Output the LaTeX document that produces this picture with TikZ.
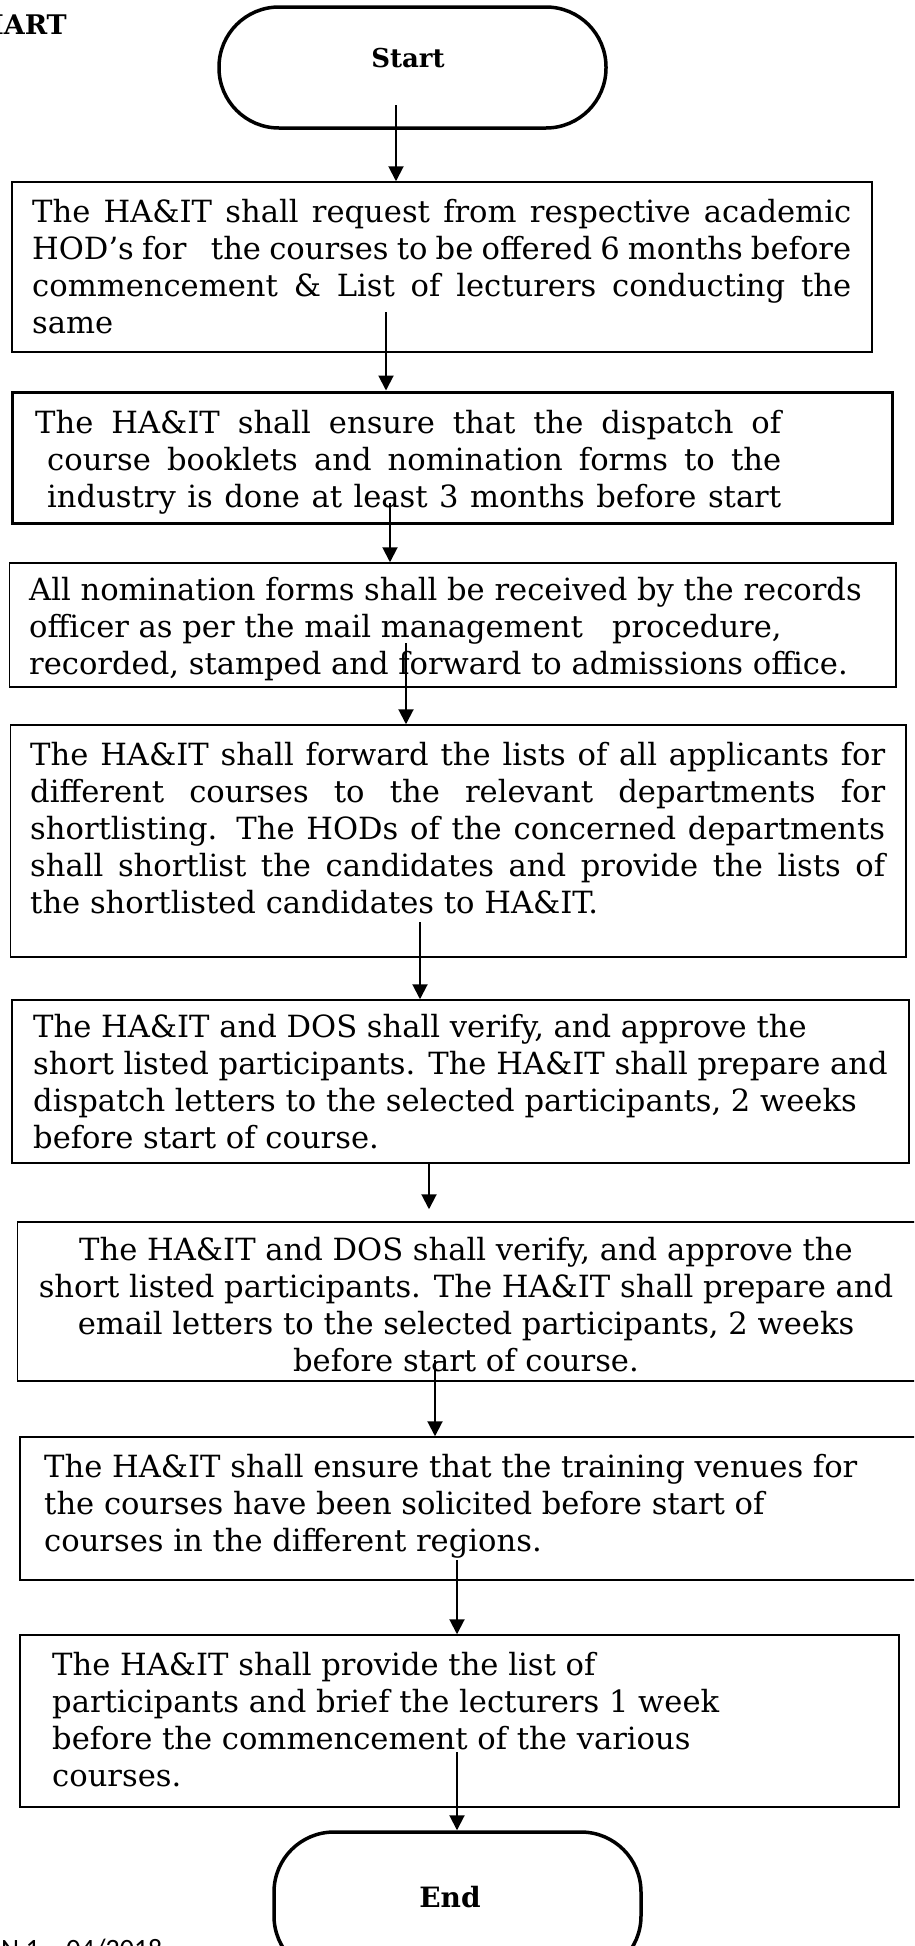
\documentclass[tikz,border=0pt]{standalone}
\usepackage{fontspec}
\setmainfont{DejaVu Serif}
\newfontfamily\footfont{Carlito}
\usetikzlibrary{arrows.meta}
\newcommand{\justline}[2]{\makebox[#1pt][s]{#2}}
\newcommand{\firststrut}{\rule{0pt}{30pt}}
\tikzset{
  box/.style={draw, line width=1.5pt, inner sep=0pt},
  thickbox/.style={box, line width=3pt},
  term/.style={draw, line width=3.5pt, rounded corners=60pt, inner sep=0pt},
  body/.style={anchor=north west, inner sep=0pt, align=left, font=\fontsize{30.6}{37}\selectfont},
  bodyc/.style={body, anchor=north, align=center},
  termtxt/.style={inner sep=0pt, font=\bfseries\fontsize{26}{28}\selectfont},
  flow/.style={-{Triangle[length=15pt,width=15pt]}, line width=2pt},
}
\begin{document}
\begin{tikzpicture}[x=1pt, y=-1pt]
\useasboundingbox (0,0) rectangle (914,1946);
\clip (0,0) rectangle (914,1946);

% header fragment and footer fragment
\node[anchor=base east, inner sep=0pt, font=\bfseries\fontsize{27}{29}\selectfont] (hdr) at (67,34) {CHART};
\node[anchor=base west, inner sep=0pt, font=\footfont\fontsize{28}{30}\selectfont] (rev) at (1,1958) {N 1 – 04/2018};

% terminals
\node[term, minimum width=387pt, minimum height=121pt] (start) at (412.5,67.5) {};
\node[termtxt] (starttxt) at (408,58.5) {Start};
\node[term, minimum width=367pt, minimum height=144pt] (end) at (457.5,1904) {};
\node[termtxt, font=\bfseries\fontsize{28}{30}\selectfont] (endtxt) at (450,1897.5) {End};

% boxes
\node[box, minimum width=860pt, minimum height=170pt] (b1) at (442,267) {};
\node[thickbox, minimum width=880pt, minimum height=131pt] (b2) at (452,457.5) {};
\node[box, minimum width=886.5pt, minimum height=124pt] (b3) at (452.75,625) {};
\node[box, minimum width=895.5pt, minimum height=232pt] (b4) at (458.25,841) {};
\node[box, minimum width=897pt, minimum height=163pt] (b5) at (460.5,1081.5) {};
\node[box, minimum width=902.5pt, minimum height=159pt] (b6) at (468.75,1301.5) {};
\node[box, minimum width=900pt, minimum height=143pt] (b7) at (470,1508.5) {};
\node[box, minimum width=879pt, minimum height=172pt] (b8) at (459.5,1721) {};

% texts
\node[body] (t1) at (32,192) {%
\firststrut\justline{819}{The HA\&IT shall request from respective academic}\\
\justline{819}{HOD’s for\ \ \ the courses to be offered 6 months before}\\
\justline{819}{commencement \& List of lecturers conducting the}\\
same};

\node[body] (t2) at (35,403) {%
\firststrut\justline{746}{The HA\&IT shall ensure that the dispatch of}\\
\hspace*{12pt}\justline{734}{course booklets and nomination forms to the}\\
\hspace*{12pt}\justline{734}{industry is done at least 3 months before start}};

\node[body] (t3) at (29,570) {%
\firststrut All nomination forms shall be received by the records\\
officer as per the mail management\ \ \ procedure,\\
recorded, stamped and forward to admissions office.};

\node[body] (t4) at (30,735) {%
\firststrut\justline{855}{The HA\&IT shall forward the lists of all applicants for}\\
\justline{855}{different courses to the relevant departments for}\\
\justline{855}{shortlisting. The HODs of the concerned departments}\\
\justline{855}{shall shortlist the candidates and provide the lists of}\\
the shortlisted candidates to HA\&IT.};

\node[body] (t5) at (33,1007) {%
\firststrut The HA\&IT and DOS shall verify, and approve the\\
short listed participants. The HA\&IT shall prepare and\\
dispatch letters to the selected participants, 2 weeks\\
before start of course.};

\node[bodyc] (t6) at (466,1230) {%
\firststrut The HA\&IT and DOS shall verify, and approve the\\
short listed participants. The HA\&IT shall prepare and\\
email letters to the selected participants, 2 weeks\\
before start of course.};

\node[body] (t7) at (44,1447) {%
\firststrut The HA\&IT shall ensure that the training venues for\\
the courses have been solicited before start of\\
courses in the different regions.};

\node[body] (t8) at (52,1645) {%
\firststrut The HA\&IT shall provide the list of\\
participants and brief the lecturers 1 week\\
before the commencement of the various\\
courses.};

% connectors
\coordinate (a1s) at (396,105);
\coordinate (a2s) at (386,312);
\coordinate (a3s) at (390,503);
\coordinate (a4s) at (406,643);
\coordinate (a5s) at (420,922);
\coordinate (a6s) at (429,1163);
\coordinate (a7s) at (435,1360);
\coordinate (a8s) at (457,1560);
\coordinate (a9s) at (457,1752);
\draw[flow] (a1s) -- (a1s |- b1.north);
\draw[flow] (a2s) -- (a2s |- b2.north);
\draw[flow] (a3s) -- (a3s |- b3.north);
\draw[flow] (a4s) -- (a4s |- b4.north);
\draw[flow] (a5s) -- (a5s |- b5.north);
\draw[flow, shorten >=12pt] (a6s) -- (a6s |- b6.north);
\draw[flow] (a7s) -- (a7s |- b7.north);
\draw[flow] (a8s) -- (a8s |- b8.north);
\draw[flow] (a9s) -- (a9s |- end.north);
\end{tikzpicture}
\end{document}
